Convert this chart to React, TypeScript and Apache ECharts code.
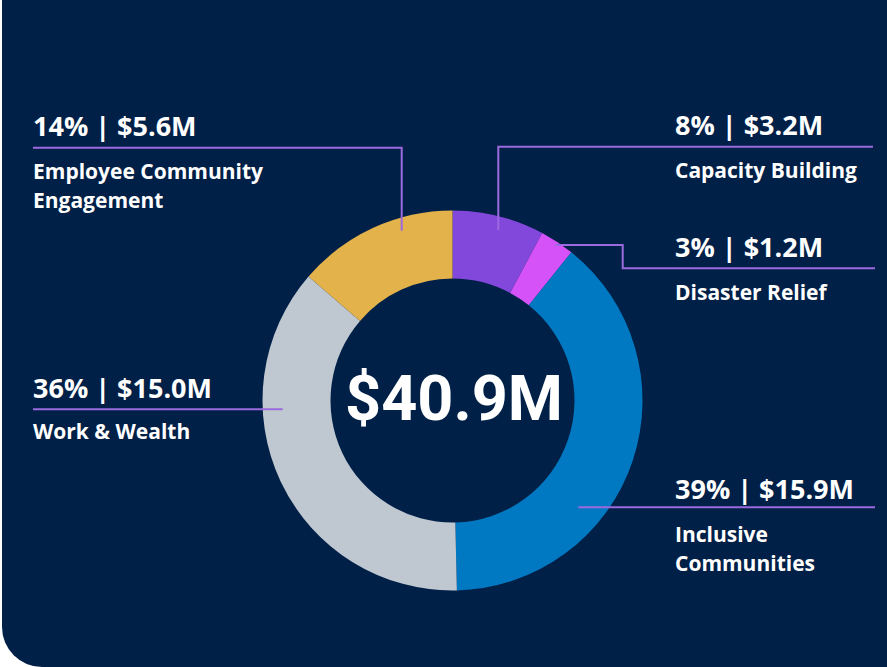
import React, { useEffect, useRef } from "react";
import * as echarts from "echarts";

// ---- data ----
const categories = [
  "Capacity Building",
  "Disaster Relief",
  "Inclusive Communities",
  "Work & Wealth",
  "Employee Community Engagement",
];
const amounts = [3.2, 1.2, 15.9, 15.0, 5.6]; // $M
const percents = [8, 3, 39, 36, 14];

// ---- styling / layout (not data) ----
const sliceColors = ["#8247DB", "#D452F7", "#0079C2", "#BFC8D1", "#E3B24B"];
const BG = "#012047";
const LINE = "#9A6ADE";
const LABEL_FONT = "'Open Sans', 'Noto Sans', sans-serif";
const CENTER_FONT = "Roboto, 'Liberation Sans', sans-serif";

const labelLayout = [
  { x: 675, headTop: 109.5, nameTop: 156, wrap: 260, line: [[873, 146.7], [498.3, 146.7], [498.3, 230]] },
  { x: 675, headTop: 231.5, nameTop: 278, wrap: 260, line: [[555, 245], [622.7, 245], [622.7, 268.3], [875, 268.3]] },
  { x: 675, headTop: 473.5, nameTop: 520, wrap: 150, line: [[578.3, 507.3], [875, 507.3]] },
  { x: 33, headTop: 372, nameTop: 417, wrap: 270, line: [[33, 409.3], [282.7, 409.3]] },
  { x: 33, headTop: 110.5, nameTop: 157, wrap: 260, line: [[33, 147.7], [401.7, 147.7], [401.7, 230.7]] },
];

export default function App() {
  const ref = useRef<HTMLDivElement>(null);

  useEffect(() => {
    document.body.style.margin = "0";
    if (!ref.current) return;
    const chart = echarts.init(ref.current, undefined, { renderer: "svg" });

    const total = amounts.reduce((a, b) => a + b, 0);

    const graphics: any[] = [
      {
        type: "rect",
        z: -100,
        silent: true,
        shape: { x: 2, y: 0, width: 885, height: 667, r: [0, 0, 0, 40] },
        style: { fill: BG },
      },
      {
        type: "text",
        z: 100,
        x: 454,
        y: 398,
        style: {
          text: `$${total.toFixed(1)}M`,
          fill: "#ffffff",
          fontFamily: CENTER_FONT,
          fontWeight: "bold",
          fontSize: 63,
          align: "center",
          verticalAlign: "middle",
        },
      },
    ];

    categories.forEach((name, i) => {
      const L = labelLayout[i];
      graphics.push({
        type: "polyline",
        z: 100,
        silent: true,
        shape: { points: L.line },
        style: { stroke: LINE, lineWidth: 2, fill: "none" },
      });
      graphics.push({
        type: "text",
        z: 100,
        x: L.x,
        y: L.headTop,
        style: {
          text: `${percents[i]}% | $${amounts[i].toFixed(1)}M`,
          fill: "#ffffff",
          fontFamily: LABEL_FONT,
          fontWeight: 700,
          fontSize: 27,
          lineHeight: 30,
          verticalAlign: "top",
        },
      });
      graphics.push({
        type: "text",
        z: 100,
        x: L.x,
        y: L.nameTop,
        style: {
          text: name,
          fill: "#ffffff",
          fontFamily: LABEL_FONT,
          fontWeight: 700,
          fontSize: 21,
          lineHeight: 28.5,
          width: L.wrap,
          overflow: "break",
          verticalAlign: "top",
        },
      });
    });

    chart.setOption({
      animation: false,
      backgroundColor: "#ffffff",
      graphic: { elements: graphics },
      series: [
        {
          type: "pie",
          center: [452.5, 400.5],
          radius: [122, 190],
          startAngle: 90,
          clockwise: true,
          silent: true,
          label: { show: false },
          labelLine: { show: false },
          emphasis: { disabled: true },
          itemStyle: { borderWidth: 0 },
          data: categories.map((name, i) => ({
            name,
            value: amounts[i],
            itemStyle: { color: sliceColors[i] },
          })),
        },
      ],
    });

    return () => chart.dispose();
  }, []);

  return <div ref={ref} style={{ width: 887, height: 667 }} />;
}
